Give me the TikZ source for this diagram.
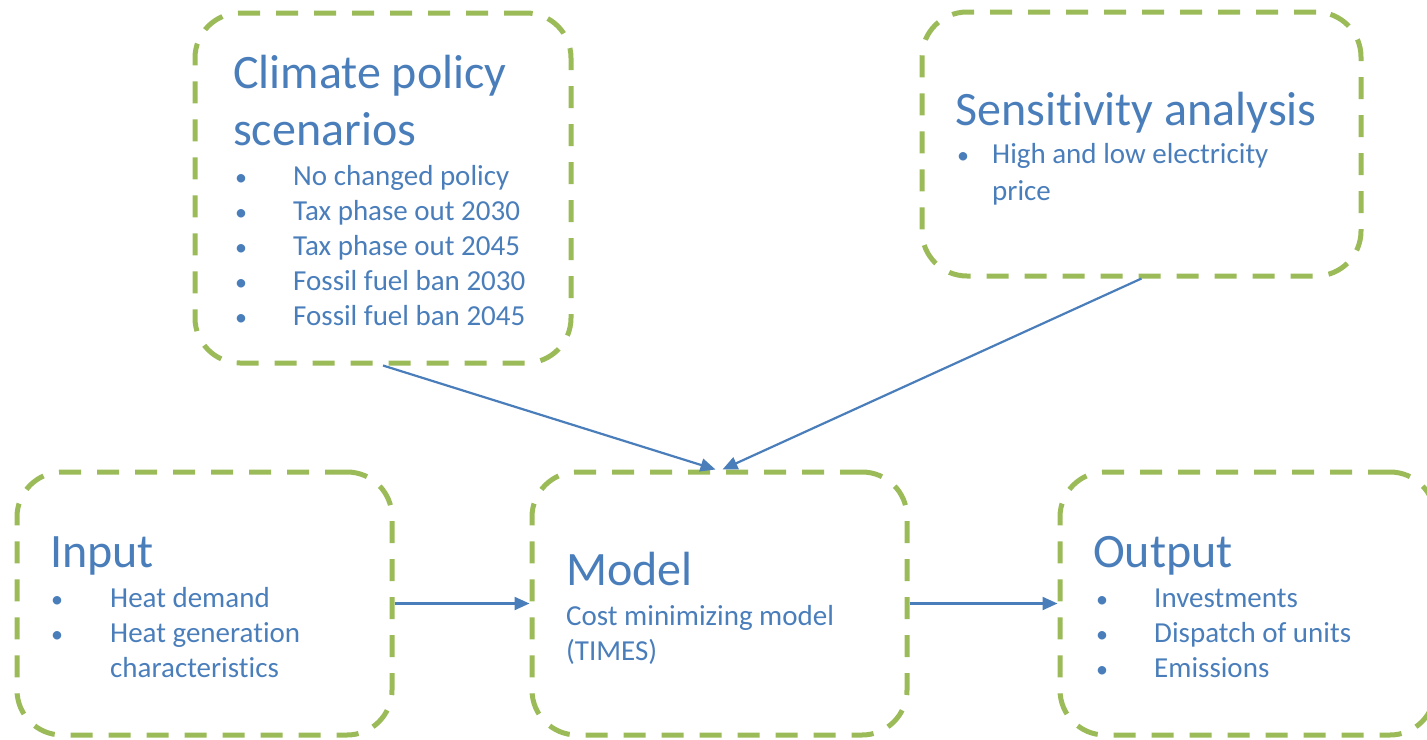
\documentclass[tikz,border=0pt]{standalone}
\usepackage{fontspec}
\setmainfont[Ligatures={NoCommon,NoRequired,NoContextual},Contextuals=NoAlternate]{Carlito}
\usetikzlibrary{arrows.meta}

\definecolor{boxgreen}{HTML}{9BBB59}
\definecolor{textblue}{HTML}{4A7EBB}

\tikzset{
  stage/.style={draw=boxgreen, line width=5pt, dash pattern=on 22pt off 16pt,
    rounded corners=45pt, inner sep=0pt},
  head/.style={anchor=base west, text=textblue, inner sep=0pt,
    font=\fontsize{48}{57}\selectfont},
  item/.style={anchor=base west, text=textblue, inner sep=0pt,
    font=\fontsize{29}{35}\selectfont},
  dot/.style={item, font=\fontsize{24}{35}\selectfont},
  link/.style={draw=textblue, line width=2.2pt, -{Triangle[length=15pt,width=13pt]}}
}

\begin{document}
\begin{tikzpicture}[x=1pt, y=-1pt]
    \clip (0,0) rectangle (1427,739);

    % the five stages
    \node[stage, minimum width=376pt, minimum height=350pt] (clim) at (383,188) {};
    \node[stage, minimum width=439pt, minimum height=264pt] (sens) at (1141.5,144) {};
    \node[stage, minimum width=375pt, minimum height=263pt] (inp) at (204.5,603.5) {};
    \node[stage, minimum width=375pt, minimum height=263pt] (model) at (719.5,603.5) {};
    \node[stage, minimum width=375pt, minimum height=263pt] (out) at (1247.5,603.5) {};

    % scenarios
    \node[head] (climT1) at (233,88) {Climate policy};
    \node[head] (climT2) at (233,145) {scenarios};
    \foreach \txt [count=\i] in {No changed policy, Tax phase out 2030,
        Tax phase out 2045, Fossil fuel ban 2030, Fossil fuel ban 2045} {
      \node[dot] (climB\i) at (235,150+35*\i) {•};
      \node[item] (climL\i) at (293,150+35*\i) {\txt};
    }

    % sensitivity
    \node[head] (sensT) at (955,125) {Sensitivity analysis};
    \node[dot] (sensB1) at (957,163) {•};
    \node[item] (sensL1) at (992,163) {High and low electricity};
    \node[item] (sensL2) at (992,200) {price};

    % input
    \node[head] (inpT) at (50,567) {Input};
    \foreach \txt [count=\i] in {Heat demand, Heat generation} {
      \node[dot] (inpB\i) at (51,572+35*\i) {•};
      \node[item] (inpL\i) at (110,572+35*\i) {\txt};
    }
    \node[item] (inpL3) at (110,677) {characteristics};

    % model
    \node[head] (modelT) at (566,585) {Model};
    \node[item] (modelL1) at (566,625) {Cost minimizing model};
    \node[item] (modelL2) at (566,660) {(TIMES)};

    % output
    \node[head] (outT) at (1093,567) {Output};
    \foreach \txt [count=\i] in {Investments, Dispatch of units, Emissions} {
      \node[dot] (outB\i) at (1096,572+35*\i) {•};
      \node[item] (outL\i) at (1154,572+35*\i) {\txt};
    }

    % flows
    \draw[link] (clim.south) -- ([xshift=-4pt]model.north);
    \draw[link] (sens.south) -- ([xshift=3pt]model.north);
    \draw[link] (inp.east) -- (model.west);
    \draw[link] (model.east) -- (out.west);
\end{tikzpicture}
\end{document}
